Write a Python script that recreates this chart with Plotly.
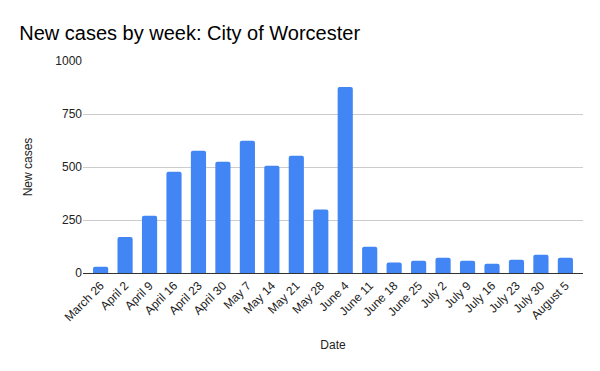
import plotly.graph_objects as go

dates = ["March 26", "April 2", "April 9", "April 16", "April 23", "April 30",
         "May 7", "May 14", "May 21", "May 28", "June 4", "June 11", "June 18",
         "June 25", "July 2", "July 9", "July 16", "July 23", "July 30", "August 5"]
new_cases = [30, 170, 270, 478, 577, 525, 624, 506, 553, 299, 877, 124, 49,
             58, 72, 58, 44, 63, 86, 72]
y_ticks = [0, 250, 500, 750, 1000]

fig = go.Figure(go.Bar(x=dates, y=new_cases, marker=dict(color="#4285F4", line=dict(width=0))))

fig.update_layout(
    width=600, height=371,
    margin=dict(l=83, r=17, t=61, b=98, autoexpand=False),
    paper_bgcolor="white", plot_bgcolor="white",
    font=dict(family="Liberation Sans, Arial, sans-serif", color="#222222", size=12),
    title=dict(text="New cases by week: City of Worcester", x=0.032, xanchor="left", xref="container",
               y=0.893, yanchor="bottom", yref="container", font=dict(size=20, color="#000000")),
    bargap=0.38,
    barcornerradius=2,
    showlegend=False,
)
fig.update_xaxes(
    range=[-0.72, 19.72], tickangle=-45, showgrid=False, automargin=False,
    showline=True, linecolor="#333333", linewidth=1,
    ticks="", tickfont=dict(size=12, color="#222222"),
    title=dict(text="Date", font=dict(size=12, color="#222222"), standoff=17),
)
fig.update_yaxes(
    range=[0, 1000], tickvals=y_ticks, showgrid=True, gridcolor="#cccccc", automargin=False,
    zeroline=True, zerolinecolor="#333333", zerolinewidth=1,
    ticks="", tickfont=dict(size=12, color="#222222"),
    title=dict(text="New cases", font=dict(size=12, color="#222222"), standoff=20),
)

fig.write_html("out.html", config={"displayModeBar": False},
               post_script="document.body.style.margin='0';document.body.style.padding='0';")
